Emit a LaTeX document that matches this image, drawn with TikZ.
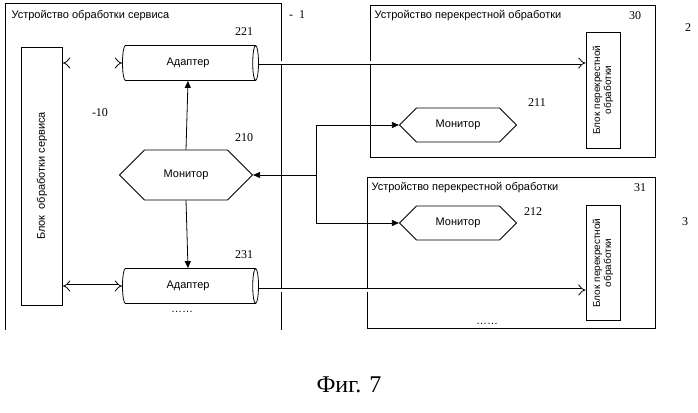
\documentclass[tikz,border=0pt]{standalone}
\usepackage{fontspec}
\setmainfont{Liberation Sans}
\newfontfamily\numfont{Liberation Serif}
\usetikzlibrary{shapes.geometric, shapes.symbols, arrows.meta, positioning}

\begin{document}
\begin{tikzpicture}[
    x=1pt, y=-1pt,
    font=\fontsize{11}{13}\selectfont,
    adapter/.style={cylinder, draw, thick, shape aspect=0.35, minimum width=35pt, minimum height=136pt},
    monitor/.style={signal, signal to=east and west, draw, thick, minimum height=#1, inner sep=2pt},
    ref/.style={font=\numfont\fontsize{12}{14}\selectfont},
    dbl/.style={double, double distance=3pt, thick, {Implies}-{Implies}},
    dblr/.style={double, double distance=3pt, thick, -{Implies}},
    arrow/.style={-{Triangle[length=7pt,width=6pt]}, thick}
]
    \useasboundingbox (0,0) rectangle (698,412);

    % service device
    \draw[thick] (5,330) -- (5,3) -- (281,3) -- (281,330);
    \node[anchor=west] (svctitle) at (8,16) {Устройство обработки сервиса};
    \node[draw, thick, minimum width=41pt, minimum height=258pt] (svcblock) at (42,176) {};
    \node[rotate=90] at (svcblock) {Блок\ \ обработки сервиса};
    \node[adapter] (ad221) at (188,63) {Адаптер};
    \node[adapter] (ad231) at (188,286) {Адаптер};
    \node[monitor=50pt, minimum width=133pt] (mon210) at (186,175) {Монитор};

    % cross devices
    \draw[thick] (370,5) rectangle (655,157);
    \node[anchor=west] (crt30) at (371,16) {Устройство перекрестной обработки};
    \draw[thick] (367,177) rectangle (655,328);
    \node[anchor=west] (crt31) at (368,188) {Устройство перекрестной обработки};
    \node[draw, thick, minimum width=34pt, minimum height=116pt] (cblk30) at (603,90) {};
    \node[rotate=90, align=center, font=\fontsize{10}{11}\selectfont] at (cblk30) {Блок перекрестной\\обработки};
    \node[draw, thick, minimum width=34pt, minimum height=115pt] (cblk31) at (603,263) {};
    \node[rotate=90, align=center, font=\fontsize{10}{11}\selectfont] at (cblk31) {Блок перекрестной\\обработки};
    \node[monitor=34pt, minimum width=117pt] (mon211) at (458,125) {Монитор};
    \node[monitor=34pt, minimum width=117pt] (mon212) at (458,223) {Монитор};

    % connections
    \coordinate (a231r) at ([yshift=-4pt]ad231.east);
    \draw[dbl] (svcblock.east |- ad221) -- (ad221.west);
    \draw[dbl] (svcblock.east |- ad231) -- (ad231.west);
    \draw[dblr] (ad221.east) -- (cblk30.west |- ad221.east);
    \draw[dblr] (a231r) -- (cblk31.west |- a231r);
    \draw[arrow] (mon210.north) -- (ad221.south);
    \draw[arrow] (mon210.south) -- (ad231.north);
    \coordinate (jtop) at (316,125);
    \coordinate (jbot) at (316,223);
    \draw[thick] (jtop) -- (jbot);
    \draw[arrow] (jtop |- mon210) -- (mon210.east);
    \draw[arrow] (jtop) -- (mon211.west);
    \draw[arrow] (jbot) -- (mon212.west);

    % labels
    \node[ref] at (244,32) {221};
    \node[ref] at (244,138) {210};
    \node[ref] at (244,255) {231};
    \node[ref] at (100,113) {-10};
    \node[ref] at (297,15) {-\ \ 1};
    \node[ref] at (635,16) {30};
    \node[ref] at (640,188) {31};
    \node[ref] at (688,28) {2};
    \node[ref] at (685,222) {3};
    \node[ref] at (537,103) {211};
    \node[ref] at (533,212) {212};
    \node at (182,312) {\dots\dots};
    \node at (487,324) {\dots\dots};
    \node[font=\numfont\fontsize{24}{28}\selectfont] at (349,385) {Фиг. 7};
\end{tikzpicture}
\end{document}
